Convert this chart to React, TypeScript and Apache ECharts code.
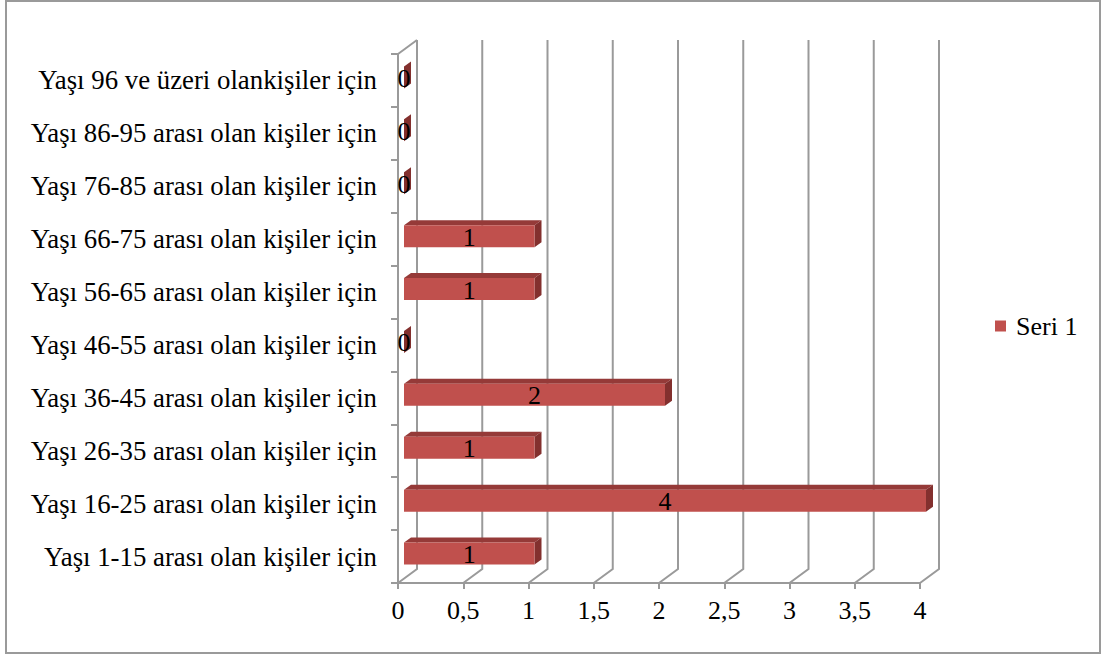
import React, { useEffect, useRef } from "react";
import * as echarts from "echarts";

const categories = [
  "Yaşı 1-15 arası olan kişiler için",
  "Yaşı 16-25 arası olan kişiler için",
  "Yaşı 26-35 arası olan kişiler için",
  "Yaşı 36-45 arası olan kişiler için",
  "Yaşı 46-55 arası olan kişiler için",
  "Yaşı 56-65 arası olan kişiler için",
  "Yaşı 66-75 arası olan kişiler için",
  "Yaşı 76-85 arası olan kişiler için",
  "Yaşı 86-95 arası olan kişiler için",
  "Yaşı 96 ve üzeri olankişiler için",
];
const seriesName = "Seri 1";
const values = [1, 4, 1, 2, 0, 1, 1, 0, 0, 0];
const xTicks = [0, 0.5, 1, 1.5, 2, 2.5, 3, 3.5, 4];

const FONT = "'Liberation Serif', 'Times New Roman', serif";
const FS = 26;
const GRID_COLOR = "#9a9a9a";
const DX = 19;
const DY = -14;

export default function App() {
  const ref = useRef<HTMLDivElement>(null);
  useEffect(() => {
    if (!ref.current) return;
    const chart = echarts.init(ref.current, null, { renderer: "svg" });
    const option: any = {
      animation: false,
      backgroundColor: "#ffffff",
      textStyle: { fontFamily: FONT },
      grid: { left: 398, right: 183, top: 54, bottom: 74 },
      legend: {
        data: [seriesName],
        left: 995,
        top: 313,
        padding: 0,
        orient: "vertical",
        icon: "rect",
        itemWidth: 11,
        itemHeight: 11,
        textStyle: { fontFamily: FONT, fontSize: FS, color: "#000", padding: [0, 0, 0, 5] },
      },
      xAxis: {
        type: "value",
        min: 0,
        max: 4,
        interval: 0.5,
        axisLine: { show: true, lineStyle: { color: GRID_COLOR, width: 2 } },
        axisTick: { show: true, length: 6, lineStyle: { color: GRID_COLOR, width: 2 } },
        splitLine: { show: false },
        axisLabel: {
          margin: 14,
          fontFamily: FONT,
          fontSize: FS,
          color: "#000",
          formatter: (v: number) => String(v).replace(".", ","),
        },
      },
      yAxis: {
        type: "category",
        data: categories,
        axisLine: { show: true, lineStyle: { color: GRID_COLOR, width: 2 } },
        axisTick: { show: true, length: 7, lineStyle: { color: GRID_COLOR, width: 2 } },
        splitLine: { show: false },
        axisLabel: { margin: 21, fontFamily: FONT, fontSize: 26.8, color: "#000" },
      },
      graphic: [
        {
          type: "rect",
          shape: { x: 6, y: 1, width: 1094, height: 652 },
          style: { fill: "none", stroke: "#9a9a9a", lineWidth: 2 },
          silent: true,
        },
      ],
      series: [
        {
          name: "walls",
          type: "custom",
          z: 1,
          silent: true,
          data: xTicks.map((v) => [v, 0]),
          encode: { x: 0, y: 1 },
          renderItem: (params: any, api: any) => {
            const cs = params.coordSys;
            const v = api.value(0);
            const x = api.coord([v, 0])[0];
            const bottom = cs.y + cs.height;
            const children: any[] = [
              {
                type: "polyline",
                shape: {
                  points: [
                    [x, bottom],
                    [x + DX, bottom + DY],
                    [x + DX, cs.y + DY],
                  ],
                },
                style: { stroke: GRID_COLOR, lineWidth: 2, fill: "none" },
              },
            ];
            if (v === 0) {
              children.push({
                type: "line",
                shape: { x1: x, y1: cs.y, x2: x + DX, y2: cs.y + DY },
                style: { stroke: GRID_COLOR, lineWidth: 2 },
              });
            }
            return { type: "group", children };
          },
        },
        {
          name: seriesName,
          type: "custom",
          z: 3,
          itemStyle: { color: "#C0504D" },
          data: values.map((v, i) => [v, i]),
          encode: { x: 0, y: 1 },
          renderItem: (params: any, api: any) => {
            const v = api.value(0);
            const c = api.value(1);
            const p0 = api.coord([0, c]);
            const p1 = api.coord([v, c]);
            const h = 22;
            const dx = 7;
            const dy = -5;
            const x0 = p0[0] + 6;
            const x1 = p1[0] + 6;
            const yc = p0[1] - 3;
            const yT = yc - h / 2;
            const yB = yc + h / 2;
            return {
              type: "group",
              children: [
                {
                  type: "polygon",
                  shape: {
                    points: [
                      [x0, yT],
                      [x1, yT],
                      [x1 + dx, yT + dy],
                      [x0 + dx, yT + dy],
                    ],
                  },
                  style: { fill: "#953a38" },
                },
                {
                  type: "polygon",
                  shape: {
                    points: [
                      [x1, yT],
                      [x1 + dx, yT + dy],
                      [x1 + dx, yB + dy],
                      [x1, yB],
                    ],
                  },
                  style: { fill: "#83302e" },
                },
                {
                  type: "rect",
                  shape: { x: x0, y: yT, width: x1 - x0, height: h },
                  style: { fill: "#C0504D" },
                },
                {
                  type: "text",
                  x: (x0 + x1) / 2,
                  y: yc + 1,
                  style: {
                    text: String(v),
                    fontFamily: FONT,
                    fontSize: FS,
                    fill: "#000",
                    align: "center",
                    verticalAlign: "middle",
                  },
                },
              ],
            };
          },
        },
      ],
    };
    chart.setOption(option);
    return () => chart.dispose();
  }, []);
  return (
    <div
      ref={ref}
      style={{ position: "fixed", left: 0, top: 0, width: 1103, height: 657 }}
    />
  );
}
